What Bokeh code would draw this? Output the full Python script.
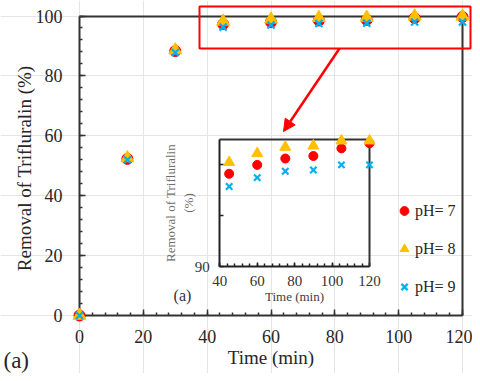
from bokeh.plotting import figure
from bokeh.models import (Range1d, LinearAxis, SingleIntervalTicker, FixedTicker,
                          Legend, LegendItem, Label, BoxAnnotation, Arrow, NormalHead)
from bokeh.embed import file_html
from bokeh.resources import INLINE

# ---------------- data ----------------
time_min = [0, 15, 30, 45, 60, 75, 90, 105, 120]
removal_ph7 = [0, 52.3, 88.3, 97.3, 98.0, 98.5, 98.7, 99.3, 99.7]
removal_ph8 = [0, 52.6, 88.6, 98.2, 98.9, 99.4, 99.5, 99.9, 99.9]
removal_ph9 = [0, 52.0, 87.8, 96.3, 97.0, 97.5, 97.6, 98.0, 98.0]
series_labels = ["pH= 7", "pH= 8", "pH= 9"]
inset_start_time = 45

main_x_bounds = (0, 120)
main_y_bounds = (0, 100)
inset_x_bounds = (40, 120)
inset_y_bounds = (90, 100)
inset_y_ticks = [90, 94, 98]
inset_y_hidden = {94: "", 98: ""}

# ---------------- styles ----------------
RED, ORANGE, BLUE = "#FF0000", "#FFC000", "#00B0F0"
FONT = "Times New Roman"
TXT = "#262626"
AXIS = "#333333"

W, H = 472, 373


def rng(v0, p0, v1, p1, lo, hi):
    s = (p1 - p0) / (v1 - v0)
    a = v0 + (lo - p0) / s
    b = v0 + (hi - p0) / s
    return min(a, b), max(a, b)


mx = rng(0, 79, 120, 462, 0, W)
my = rng(0, 315, 100, 15.5, 0, H)
ix = rng(40, 219.3, 120, 369, 0, W)
iy = rng(90, 266, 100, 139, 0, H)


def to_mx(px):
    return mx[0] + px / W * (mx[1] - mx[0])


def to_my(py):
    return my[1] - py / H * (my[1] - my[0])


def to_ix(px):
    return ix[0] + px / W * (ix[1] - ix[0])


def to_iy(py):
    return iy[1] - py / H * (iy[1] - iy[0])


p = figure(width=W, height=H, x_range=Range1d(*mx), y_range=Range1d(*my),
           x_axis_location=None, y_axis_location=None, min_border=0,
           outline_line_color=None, toolbar_location=None, output_backend="svg",
           background_fill_color="white", border_fill_color="white")
p.extra_x_ranges = {"ix": Range1d(*ix)}
p.extra_y_ranges = {"iy": Range1d(*iy)}


def style_axis(ax, tick_size, label_size, color=AXIS, text_color=TXT,
               label_color=TXT, line_width=2, major_in=6, minor_in=3):
    ax.axis_line_color = color
    ax.axis_line_width = line_width
    ax.major_tick_in = major_in
    ax.major_tick_out = 0
    ax.minor_tick_in = minor_in
    ax.minor_tick_out = 0
    ax.major_tick_line_color = color
    ax.minor_tick_line_color = color
    ax.major_tick_line_width = 1.5
    ax.minor_tick_line_width = 1.5
    ax.major_label_text_font = FONT
    ax.major_label_text_font_size = tick_size
    ax.major_label_text_color = text_color
    ax.axis_label_text_font = FONT
    ax.axis_label_text_font_size = label_size
    ax.axis_label_text_font_style = "normal"
    ax.axis_label_text_color = label_color


def frame_axis(loc, bounds, side, **names):
    ax = LinearAxis(fixed_location=loc, bounds=bounds,
                    ticker=FixedTicker(ticks=[], minor_ticks=[]), **names)
    style_axis(ax, "1px", "1px", major_in=0, minor_in=0)
    p.add_layout(ax, side)


# ---------------- main axes ----------------
xa = LinearAxis(fixed_location=0, bounds=main_x_bounds,
                ticker=SingleIntervalTicker(interval=20, num_minor_ticks=5),
                axis_label="Time (min)")
style_axis(xa, "18px", "19px")
xa.major_label_standoff = 14
xa.axis_label_standoff = 1
p.add_layout(xa, "below")

ya = LinearAxis(fixed_location=0, bounds=main_y_bounds,
                ticker=SingleIntervalTicker(interval=20, num_minor_ticks=5),
                axis_label="Removal of Trifluralin  (%)")
style_axis(ya, "18px", "19px")
ya.major_label_standoff = 17
ya.axis_label_standoff = -2
p.add_layout(ya, "left")

frame_axis(100, main_x_bounds, "above")
frame_axis(120, main_y_bounds, "right")

# ---------------- inset axes ----------------
ixa = LinearAxis(fixed_location=90, bounds=inset_x_bounds,
                 ticker=SingleIntervalTicker(interval=20, num_minor_ticks=5),
                 axis_label="Time (min)", x_range_name="ix", y_range_name="iy")
style_axis(ixa, "15px", "13px", color="#222222", text_color="#333333",
           label_color="#404040", major_in=4, minor_in=3)
ixa.major_label_standoff = 9
ixa.axis_label_standoff = 0
p.add_layout(ixa, "below")

iya = LinearAxis(fixed_location=40, bounds=inset_y_bounds,
                 ticker=FixedTicker(ticks=inset_y_ticks, minor_ticks=[]),
                 axis_label="Removal of Trifluralin\n(%)",
                 x_range_name="ix", y_range_name="iy")
style_axis(iya, "15px", "13px", color="#222222", text_color="#333333",
           label_color="#6f6f6f", major_in=4, minor_in=0)
iya.major_label_overrides = inset_y_hidden
iya.major_label_standoff = 10
iya.axis_label_standoff = -4
p.add_layout(iya, "left")

frame_axis(100, inset_x_bounds, "above", x_range_name="ix", y_range_name="iy")
frame_axis(120, inset_y_bounds, "right", x_range_name="ix", y_range_name="iy")

# ---------------- data marks ----------------
series = [removal_ph7, removal_ph8, removal_ph9]
marker_styles = [
    dict(marker="circle", fill_color=RED, line_color=RED),
    dict(marker="triangle", fill_color=ORANGE, line_color=ORANGE),
    dict(marker="x", line_color=BLUE, line_width=2.2),
]
main_sizes = [11, 13, 10]
inset_sizes = [9, 11, 9]
idx = [i for i, t in enumerate(time_min) if t >= inset_start_time]
inset_t = [time_min[i] for i in idx]

main_renderers = []
for vals, st, sz in zip(series, marker_styles, main_sizes):
    r = p.scatter(time_min, vals, size=sz, level="overlay", **st)
    main_renderers.append(r)

for vals, st, sz in zip(series, marker_styles, inset_sizes):
    p.scatter(inset_t, [vals[i] for i in idx], size=sz, level="overlay",
              x_range_name="ix", y_range_name="iy", **st)

# ---------------- annotations ----------------
box = BoxAnnotation(left=to_mx(199), right=to_mx(470), top=to_my(6), bottom=to_my(48),
                    fill_alpha=0, fill_color=None, line_color=RED, line_width=2,
                    line_alpha=1)
p.add_layout(box)

arrow = Arrow(end=NormalHead(size=12, fill_color=RED, line_color=RED),
              x_start=to_mx(339), y_start=to_my(48), x_end=to_mx(283), y_end=to_my(131),
              line_color=RED, line_width=2.5)
p.add_layout(arrow)

p.add_layout(Label(x=to_mx(3), y=to_my(360), text="(a)", text_font=FONT,
                   text_font_size="23px", text_color=TXT,
                   text_align="left", text_baseline="middle"))
p.add_layout(Label(x=to_ix(182), y=to_iy(295), text="(a)", text_font=FONT,
                   text_font_size="16px", text_color="#333333",
                   text_align="center", text_baseline="middle",
                   x_range_name="ix", y_range_name="iy"))

legend = Legend(items=[LegendItem(label=lab, renderers=[r])
                       for lab, r in zip(series_labels, main_renderers)],
                location=(393, H - 299), glyph_width=22, glyph_height=25,
                label_height=25, label_standoff=0, spacing=13, padding=0, margin=0,
                border_line_color=None, background_fill_alpha=0,
                label_text_font=FONT, label_text_font_size="16px",
                label_text_color=TXT, label_text_baseline="middle")
p.add_layout(legend)

open("out.html", "w").write(file_html(p, INLINE))
